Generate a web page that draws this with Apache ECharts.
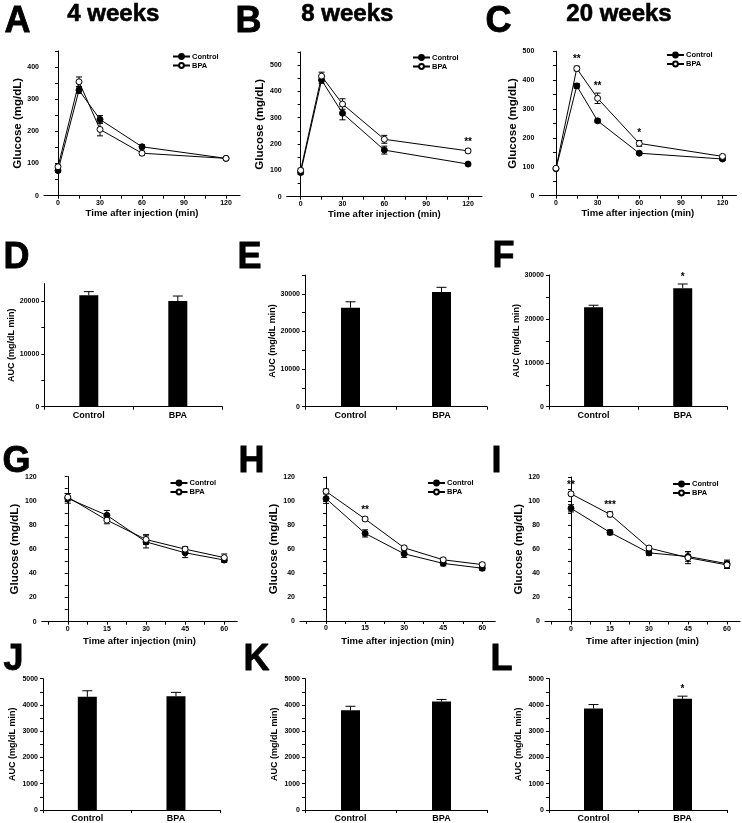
<!DOCTYPE html>
<html><head><meta charset="utf-8">
<script src="https://cdn.jsdelivr.net/npm/echarts@6/dist/echarts.min.js"></script>
<style>html,body{margin:0;padding:0;background:#fff}#c{width:742px;height:823px}</style>
</head><body><div id="c"></div>
<script>
// ---------------- DATA ----------------
const seriesNames = ['Control', 'BPA'];
const gttTimes = [0, 15, 30, 60, 120];
const ittTimes = [0, 15, 30, 45, 60];
const barCategories = ['Control', 'BPA'];
const weekTitles = ['4 weeks', '8 weeks', '20 weeks'];
const panelLetters = ['A','B','C','D','E','F','G','H','I','J','K','L'];

// GTT (panels A-C)
const gtt4Control = [78, 328, 237, 152, 116];
const gtt4ControlErr = [5, 10, 12, 6, 4];
const gtt4Bpa = [90, 354, 206, 132, 116];
const gtt4BpaErr = [5, 15, 20, 6, 4];
const gtt4Sig = ['', '', '', '', ''];

const gtt8Control = [92, 443, 317, 177, 124];
const gtt8ControlErr = [8, 12, 25, 15, 6];
const gtt8Bpa = [100, 458, 352, 218, 174];
const gtt8BpaErr = [8, 15, 20, 15, 7];
const gtt8Sig = ['', '', '', '', '**'];

const gtt20Control = [93, 380, 259, 147, 127];
const gtt20ControlErr = [5, 8, 6, 4, 5];
const gtt20Bpa = [95, 440, 337, 181, 136];
const gtt20BpaErr = [5, 8, 18, 10, 5];
const gtt20Sig = ['', '**', '**', '*', ''];

// GTT AUC (panels D-F)  [Control, BPA]
const gttAuc4 = [21080, 20000];
const gttAuc4Err = [700, 950];
const gttAuc4Sig = ['', ''];
const gttAuc8 = [26300, 30500];
const gttAuc8Err = [1600, 1250];
const gttAuc8Sig = ['', ''];
const gttAuc20 = [22660, 27000];
const gttAuc20Err = [450, 950];
const gttAuc20Sig = ['', '*'];

// ITT (panels G-I)
const itt4Control = [102, 88, 66, 57, 51];
const itt4ControlErr = [4, 4, 5, 4, 2];
const itt4Bpa = [103, 84, 68, 60, 53];
const itt4BpaErr = [3, 3, 4, 2, 3];
const itt4Sig = ['', '', '', '', ''];

const itt8Control = [102, 73, 56, 48, 44];
const itt8ControlErr = [4, 3, 3, 2, 2];
const itt8Bpa = [108, 85, 61, 51, 47];
const itt8BpaErr = [2, 1.5, 1.5, 1.5, 1.5];
const itt8Sig = ['', '**', '', '', ''];

const itt20Control = [94, 74, 57, 54, 48];
const itt20ControlErr = [3, 2, 2, 4, 3];
const itt20Bpa = [106, 89, 61, 53, 47];
const itt20BpaErr = [1.5, 2, 1.5, 5, 3];
const itt20Sig = ['**', '***', '', '', ''];

// ITT AUC (panels J-L)
const ittAuc4 = [4310, 4330];
const ittAuc4Err = [230, 150];
const ittAuc4Sig = ['', ''];
const ittAuc8 = [3800, 4130];
const ittAuc8Err = [150, 80];
const ittAuc8Sig = ['', ''];
const ittAuc20 = [3865, 4235];
const ittAuc20Err = [150, 100];
const ittAuc20Sig = ['', '*'];

// Axis tick/label values
const gttXTicks = [0, 15, 30, 45, 60, 75, 90, 105, 120];
const gttXLabels = [0, 30, 60, 90, 120];
const ittXTicks = [-7.5, 0, 7.5, 15, 22.5, 30, 37.5, 45, 52.5, 60];
const ittXLabels = [0, 15, 30, 45, 60];
const gtt4YTicks = [0, 50, 100, 150, 200, 250, 300, 350, 400, 450];
const gtt4YLabels = [0, 100, 200, 300, 400];
const gtt8YTicks = [0, 50, 100, 150, 200, 250, 300, 350, 400, 450, 500, 550];
const gtt8YLabels = [0, 100, 200, 300, 400, 500];
const gtt20YTicks = [0, 50, 100, 150, 200, 250, 300, 350, 400, 450, 500];
const gtt20YLabels = [0, 100, 200, 300, 400, 500];
const ittYTicks = [0, 10, 20, 30, 40, 50, 60, 70, 80, 90, 100, 110, 120];
const ittYLabels = [0, 20, 40, 60, 80, 100, 120];
const auc4YTicks = [0, 5000, 10000, 15000, 20000];
const auc4YLabels = [0, 10000, 20000];
const auc8YTicks = [0, 5000, 10000, 15000, 20000, 25000, 30000, 35000];
const auc8YLabels = [0, 10000, 20000, 30000];
const auc20YTicks = [0, 5000, 10000, 15000, 20000, 25000, 30000];
const auc20YLabels = [0, 10000, 20000, 30000];
const ittAucYTicks = [0, 500, 1000, 1500, 2000, 2500, 3000, 3500, 4000, 4500, 5000];
const ittAucYLabels = [0, 1000, 2000, 3000, 4000, 5000];

// ---------------- BUILD ----------------
const FF = '"Liberation Sans", Arial, sans-serif';
const BLACK = '#000';
const plain = v => String(v);
const grids = [], xAxes = [], yAxes = [], series = [], legends = [], graphics = [];

function yAxisCfg(gi, max, ticks, labels, name, nameSize, nameGap) {
  return {
    type: 'value', gridIndex: gi, min: 0, max: max,
    axisLine: { show: true, lineStyle: { color: BLACK, width: 1 } },
    axisTick: { show: true, customValues: ticks, length: 3, lineStyle: { color: BLACK, width: 1 } },
    axisLabel: { customValues: labels, formatter: plain, fontSize: 7, fontWeight: 'bold', fontFamily: FF, color: BLACK, margin: 5 },
    splitLine: { show: false },
    name: name, nameLocation: 'middle', nameGap: nameGap,
    nameTextStyle: { fontSize: nameSize, fontWeight: 'bold', fontFamily: FF, color: BLACK }
  };
}

function errRender(capHalf, upOnly) {
  return function (params, api) {
    const x = api.value(0), v = api.value(1), e = api.value(2);
    const top = api.coord([x, v + e]);
    const bot = api.coord([x, upOnly ? v : v - e]);
    const st = { stroke: BLACK, lineWidth: 1 };
    const ch = [
      { type: 'line', shape: { x1: top[0], y1: top[1], x2: bot[0], y2: bot[1] }, style: st },
      { type: 'line', shape: { x1: top[0] - capHalf, y1: top[1], x2: top[0] + capHalf, y2: top[1] }, style: st }
    ];
    if (!upOnly) ch.push({ type: 'line', shape: { x1: bot[0] - capHalf, y1: bot[1], x2: bot[0] + capHalf, y2: bot[1] }, style: st });
    return { type: 'group', children: ch };
  };
}

function sigRender(sig) {
  return function (params, api) {
    const txt = sig[params.dataIndex];
    if (!txt) return null;
    const p = api.coord([api.value(0), api.value(1)]);
    return { type: 'text', x: p[0], y: p[1] - 2, style: { text: txt, textAlign: 'center', textVerticalAlign: 'bottom', font: 'bold 10px ' + FF, fill: BLACK } };
  };
}

function addLinePanel(p) {
  const gi = grids.length;
  grids.push({ left: p.left, top: p.top, width: p.width, height: p.height });
  xAxes.push({
    type: 'value', gridIndex: gi, min: p.xMin, max: p.xMax,
    axisLine: { show: true, onZero: false, lineStyle: { color: BLACK, width: 1 } },
    axisTick: { show: true, customValues: p.xTicks, length: 3, lineStyle: { color: BLACK, width: 1 } },
    axisLabel: { customValues: p.xLabels, formatter: plain, fontSize: 7, fontWeight: 'bold', fontFamily: FF, color: BLACK, margin: 4 },
    splitLine: { show: false },
    name: 'Time after injection (min)', nameLocation: 'middle', nameGap: p.xNameGap,
    nameTextStyle: { fontSize: 9.5, fontWeight: 'bold', fontFamily: FF, color: BLACK }
  });
  yAxes.push(yAxisCfg(gi, p.yMax, p.yTicks, p.yLabels, 'Glucose (mg/dL)', 11.5, p.yNameGap));
  const base = { xAxisIndex: gi, yAxisIndex: gi, silent: true, animation: false };
  series.push(Object.assign({
    type: 'line', name: seriesNames[0], data: p.times.map((t, i) => [t, p.ctrl[i]]),
    symbol: 'circle', symbolSize: 6, lineStyle: { color: BLACK, width: 1 },
    itemStyle: { color: BLACK, borderColor: BLACK, borderWidth: 1 }, z: 3
  }, base));
  series.push(Object.assign({
    type: 'line', name: seriesNames[1], data: p.times.map((t, i) => [t, p.bpa[i]]),
    symbol: 'circle', symbolSize: 6, lineStyle: { color: BLACK, width: 1 },
    itemStyle: { color: '#fff', borderColor: BLACK, borderWidth: 1 }, z: 4
  }, base));
  series.push(Object.assign({
    type: 'custom', name: 'errC' + gi, data: p.times.map((t, i) => [t, p.ctrl[i], p.ctrlErr[i]]),
    encode: { x: 0, y: 1 }, renderItem: errRender(3, false), z: 2
  }, base));
  series.push(Object.assign({
    type: 'custom', name: 'errB' + gi, data: p.times.map((t, i) => [t, p.bpa[i], p.bpaErr[i]]),
    encode: { x: 0, y: 1 }, renderItem: errRender(3, false), z: 2
  }, base));
  series.push(Object.assign({
    type: 'custom', name: 'sig' + gi,
    data: p.times.map((t, i) => [t, Math.max(p.bpa[i] + p.bpaErr[i], p.ctrl[i] + p.ctrlErr[i])]),
    encode: { x: 0, y: 1 }, renderItem: sigRender(p.sig), z: 5
  }, base));
  legends.push({
    left: p.legLeft, top: p.legTop, orient: 'vertical', itemWidth: 17, itemHeight: 6, itemGap: 1,
    padding: 0, selectedMode: false, data: seriesNames,
    textStyle: { fontSize: 7.5, fontWeight: 'bold', fontFamily: FF, color: BLACK, padding: [0, 0, 0, -3] }
  });
}

function addBarPanel(p) {
  const gi = grids.length;
  grids.push({ left: p.left, top: p.top, width: p.width, height: p.height });
  xAxes.push({
    type: 'category', gridIndex: gi, data: barCategories, boundaryGap: true,
    axisLine: { show: true, onZero: false, lineStyle: { color: BLACK, width: 1 } },
    axisTick: { show: true, length: 3, lineStyle: { color: BLACK, width: 1 } },
    axisLabel: { fontSize: 9, fontWeight: 'bold', fontFamily: FF, color: BLACK, margin: 4 },
    splitLine: { show: false }
  });
  yAxes.push(yAxisCfg(gi, p.yMax, p.yTicks, p.yLabels, 'AUC (mg/dL min)', p.yNameSize, p.yNameGap));
  const base = { xAxisIndex: gi, yAxisIndex: gi, silent: true, animation: false };
  series.push(Object.assign({
    type: 'bar', name: 'auc' + gi, data: p.vals, barWidth: 19, itemStyle: { color: BLACK }, z: 2
  }, base));
  series.push(Object.assign({
    type: 'custom', name: 'aucErr' + gi, data: p.vals.map((v, i) => [i, v, p.errs[i]]),
    encode: { x: 0, y: 1 }, renderItem: errRender(5, true), z: 3
  }, base));
  series.push(Object.assign({
    type: 'custom', name: 'aucSig' + gi, data: p.vals.map((v, i) => [i, v + p.errs[i]]),
    encode: { x: 0, y: 1 }, renderItem: sigRender(p.sig), z: 4
  }, base));
}

// Top row: GTT curves
addLinePanel({ left: 44, top: 50.9, width: 196, height: 144.8, xMin: -10, xMax: 130, xTicks: gttXTicks, xLabels: gttXLabels, xNameGap: 13,
  yMax: 450, yTicks: gtt4YTicks, yLabels: gtt4YLabels, yNameGap: 18, times: gttTimes,
  ctrl: gtt4Control, ctrlErr: gtt4ControlErr, bpa: gtt4Bpa, bpaErr: gtt4BpaErr, sig: gtt4Sig, legLeft: 172, legTop: 52.5 });
addLinePanel({ left: 286.7, top: 51.9, width: 195.3, height: 144.8, xMin: -10, xMax: 130, xTicks: gttXTicks, xLabels: gttXLabels, xNameGap: 13,
  yMax: 550, yTicks: gtt8YTicks, yLabels: gtt8YLabels, yNameGap: 18, times: gttTimes,
  ctrl: gtt8Control, ctrlErr: gtt8ControlErr, bpa: gtt8Bpa, bpaErr: gtt8BpaErr, sig: gtt8Sig, legLeft: 412, legTop: 53.5 });
addLinePanel({ left: 539.3, top: 51.2, width: 197.1, height: 144.5, xMin: -12, xMax: 130, xTicks: gttXTicks, xLabels: gttXLabels, xNameGap: 13,
  yMax: 500, yTicks: gtt20YTicks, yLabels: gtt20YLabels, yNameGap: 18, times: gttTimes,
  ctrl: gtt20Control, ctrlErr: gtt20ControlErr, bpa: gtt20Bpa, bpaErr: gtt20BpaErr, sig: gtt20Sig, legLeft: 666, legTop: 51 });

// Second row: GTT AUC
addBarPanel({ left: 44.3, top: 283.6, width: 178, height: 123.1, yMax: 23300, yTicks: auc4YTicks, yLabels: auc4YLabels,
  yNameSize: 9, yNameGap: 28, vals: gttAuc4, errs: gttAuc4Err, sig: gttAuc4Sig });
addBarPanel({ left: 305, top: 275.1, width: 182, height: 131.6, yMax: 35000, yTicks: auc8YTicks, yLabels: auc8YLabels,
  yNameSize: 9, yNameGap: 28, vals: gttAuc8, errs: gttAuc8Err, sig: gttAuc8Sig });
addBarPanel({ left: 549, top: 275, width: 178.3, height: 131.7, yMax: 30000, yTicks: auc20YTicks, yLabels: auc20YLabels,
  yNameSize: 9, yNameGap: 28, vals: gttAuc20, errs: gttAuc20Err, sig: gttAuc20Sig });

// Third row: ITT curves
addLinePanel({ left: 41.7, top: 476.6, width: 195.6, height: 145.1, xMin: -10, xMax: 65, xTicks: ittXTicks, xLabels: ittXLabels, xNameGap: 15,
  yMax: 120, yTicks: ittYTicks, yLabels: ittYLabels, yNameGap: 16, times: ittTimes,
  ctrl: itt4Control, ctrlErr: itt4ControlErr, bpa: itt4Bpa, bpaErr: itt4BpaErr, sig: itt4Sig, legLeft: 169.5, legTop: 479 });
addLinePanel({ left: 300, top: 477, width: 195.3, height: 144, xMin: -10, xMax: 65, xTicks: ittXTicks, xLabels: ittXLabels, xNameGap: 15,
  yMax: 120, yTicks: ittYTicks, yLabels: ittYLabels, yNameGap: 16, times: ittTimes,
  ctrl: itt8Control, ctrlErr: itt8ControlErr, bpa: itt8Bpa, bpaErr: itt8BpaErr, sig: itt8Sig, legLeft: 427, legTop: 479 });
addLinePanel({ left: 545, top: 477, width: 195, height: 144.5, xMin: -10, xMax: 65, xTicks: ittXTicks, xLabels: ittXLabels, xNameGap: 15,
  yMax: 120, yTicks: ittYTicks, yLabels: ittYLabels, yNameGap: 16, times: ittTimes,
  ctrl: itt20Control, ctrlErr: itt20ControlErr, bpa: itt20Bpa, bpaErr: itt20BpaErr, sig: itt20Sig, legLeft: 672, legTop: 480 });

// Fourth row: ITT AUC
addBarPanel({ left: 43, top: 678.7, width: 177.3, height: 131.3, yMax: 5000, yTicks: ittAucYTicks, yLabels: ittAucYLabels,
  yNameSize: 9, yNameGap: 26, vals: ittAuc4, errs: ittAuc4Err, sig: ittAuc4Sig });
addBarPanel({ left: 305, top: 678.7, width: 182, height: 131.3, yMax: 5000, yTicks: ittAucYTicks, yLabels: ittAucYLabels,
  yNameSize: 9, yNameGap: 26, vals: ittAuc8, errs: ittAuc8Err, sig: ittAuc8Sig });
addBarPanel({ left: 549, top: 678.7, width: 178, height: 131.3, yMax: 5000, yTicks: ittAucYTicks, yLabels: ittAucYLabels,
  yNameSize: 9, yNameGap: 26, vals: ittAuc20, errs: ittAuc20Err, sig: ittAuc20Sig });

// Panel letters & week titles
const letterPos = [[4, 4], [235, 4], [485, 4], [3, 240], [237, 240], [492, 239], [2, 444], [238, 444], [491, 444], [3, 642], [243, 642], [490, 642]];
panelLetters.forEach((L, i) => {
  graphics.push({ type: 'text', left: letterPos[i][0], top: letterPos[i][1], style: { text: L, font: 'bold 36px ' + FF, fill: BLACK, stroke: BLACK, lineWidth: 0.8 } });
});
const titlePos = [[67, 2], [301, 2], [566, 2]];
weekTitles.forEach((t, i) => {
  graphics.push({ type: 'text', left: titlePos[i][0], top: titlePos[i][1], style: { text: t, font: 'bold 24px ' + FF, fill: BLACK, stroke: BLACK, lineWidth: 0.6 } });
});

const chart = echarts.init(document.getElementById('c'), null, { renderer: 'canvas' });
chart.setOption({
  animation: false,
  backgroundColor: '#fff',
  textStyle: { fontFamily: FF },
  grid: grids, xAxis: xAxes, yAxis: yAxes, series: series, legend: legends, graphic: graphics,
  tooltip: { show: false }
});
</script>
</body></html>
